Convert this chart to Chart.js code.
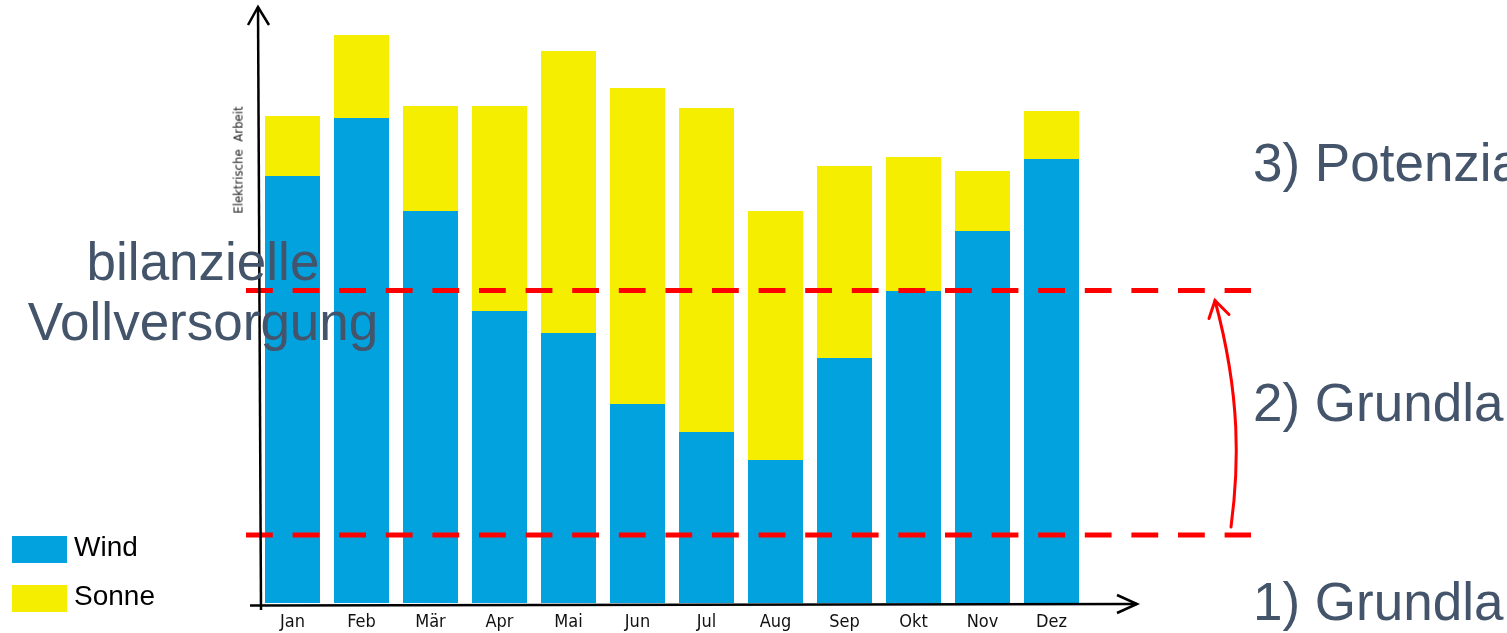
<!DOCTYPE html>
<html>
<head>
<meta charset="utf-8">
<script src="https://cdn.jsdelivr.net/npm/chart.js@4/dist/chart.umd.min.js"></script>
<style>
  html, body { margin: 0; padding: 0; background: #ffffff; overflow: hidden; }
  #wrap { position: relative; width: 1507px; height: 633px; overflow: hidden; }
  #c { position: absolute; left: 0; top: 0; }
  .big { position: absolute; font-family: 'Liberation Sans', Arial, sans-serif; font-size: 53px; line-height: 60px; color: #44546A; white-space: nowrap; }
  .leg { position: absolute; font-family: 'Liberation Sans', Arial, sans-serif; font-size: 28px; line-height: 32px; color: #000; white-space: nowrap; }
  .sw { position: absolute; left: 12px; width: 55px; height: 27px; }
  #ytitle { position: absolute; left: 238px; top: 160px; transform: translate(-50%, -50%) rotate(-90deg);
            font-family: 'Liberation Sans Narrow', 'DejaVu Sans Condensed', 'Liberation Sans', sans-serif;
            font-size: 13px; color: #222; white-space: nowrap; word-spacing: 4px; }
</style>
</head>
<body>
<div id="wrap">
  <canvas id="c" width="1507" height="633"></canvas>
  <div id="ytitle">Elektrische Arbeit</div>
  <div class="big" style="left:0; top:232px; width:406px; text-align:center;">bilanzielle<br>Vollversorgung</div>
  <div class="big" style="left:1253px; top:133px;">3) Potenzia</div>
  <div class="big" style="left:1253px; top:373px;">2) Grundla</div>
  <div class="big" style="left:1253px; top:572px;">1) Grundla</div>
  <div class="sw" style="top:536px; background:#02A2DF;"></div>
  <div class="sw" style="top:585px; background:#F5EE00;"></div>
  <div class="leg" style="left:74px; top:531px;">Wind</div>
  <div class="leg" style="left:74px; top:580px;">Sonne</div>
</div>
<script>
const categories = ['Jan','Feb','Mär','Apr','Mai','Jun','Jul','Aug','Sep','Okt','Nov','Dez'];
const windValues = [427, 485, 392, 292, 270, 199, 171, 143, 245, 312, 372, 444];
const sonneValues = [60, 83, 105, 205, 282, 316, 324, 249, 192, 134, 60, 48];
const referenceLevels = [68, 312.5];
const seriesNames = ['Wind', 'Sonne'];
const seriesColors = ['#02A2DF', '#F5EE00'];

const overlayPlugin = {
  id: 'overlay',
  afterDatasetsDraw(chart) {
    const ctx = chart.ctx;
    const { left, right, top, bottom } = chart.chartArea;
    const y = chart.scales.y;
    ctx.save();
    // red dashed reference lines
    ctx.strokeStyle = '#FF0000';
    ctx.lineWidth = 5;
    ctx.setLineDash([26.8, 19.8]);
    referenceLevels.forEach(v => {
      const py = y.getPixelForValue(v);
      ctx.beginPath();
      ctx.moveTo(left - 12, py);
      ctx.lineTo(right + 165, py);
      ctx.stroke();
    });
    ctx.setLineDash([]);
    // curved red arrow between the two levels
    const lowY = y.getPixelForValue(referenceLevels[0]);
    const highY = y.getPixelForValue(referenceLevels[1]);
    const bx = right + 145, by = lowY - 8;
    const tx = right + 129, ty = highY + 10;
    ctx.lineWidth = 3;
    ctx.lineCap = 'round';
    ctx.beginPath();
    ctx.moveTo(bx, by);
    ctx.bezierCurveTo(bx + 8, by - 60, bx + 10, by - 130, tx, ty);
    ctx.stroke();
    ctx.beginPath();
    ctx.moveTo(tx - 6, ty + 18);
    ctx.lineTo(tx, ty);
    ctx.lineTo(tx + 14, ty + 14);
    ctx.stroke();
    // hand-drawn style axes
    ctx.strokeStyle = '#000';
    ctx.lineWidth = 2.5;
    ctx.lineCap = 'butt';
    ctx.lineJoin = 'miter';
    ctx.beginPath();
    ctx.moveTo(left + 3, bottom + 7);
    ctx.lineTo(left, top + 4);
    ctx.stroke();
    ctx.beginPath();
    ctx.moveTo(left - 10, top + 22);
    ctx.lineTo(left, top + 4);
    ctx.lineTo(left + 11, top + 22);
    ctx.stroke();
    ctx.beginPath();
    ctx.moveTo(left - 8, bottom + 2.5);
    ctx.lineTo(left + 879, bottom + 1);
    ctx.stroke();
    ctx.beginPath();
    ctx.moveTo(left + 859, bottom - 8);
    ctx.lineTo(left + 879, bottom + 1);
    ctx.lineTo(left + 859, bottom + 10);
    ctx.stroke();
    ctx.restore();
  }
};

new Chart(document.getElementById('c'), {
  type: 'bar',
  data: {
    labels: categories,
    datasets: [
      { label: seriesNames[0], data: windValues, backgroundColor: seriesColors[0], borderWidth: 0 },
      { label: seriesNames[1], data: sonneValues, backgroundColor: seriesColors[1], borderWidth: 0 }
    ]
  },
  options: {
    responsive: false,
    animation: false,
    devicePixelRatio: 1,
    layout: { padding: { left: 258, right: 421, top: 3, bottom: 0 } },
    datasets: { bar: { barPercentage: 55 / 69, categoryPercentage: 1 } },
    plugins: { legend: { display: false }, tooltip: { enabled: false }, title: { display: false } },
    scales: {
      x: {
        stacked: true,
        grid: { display: false, drawTicks: false },
        border: { display: false },
        ticks: {
          color: '#111',
          padding: 9,
          font: { family: "'Liberation Sans Narrow', 'DejaVu Sans Condensed', 'Liberation Sans', sans-serif", size: 18 }
        },
        afterFit(scale) { scale.height = 30; }
      },
      y: {
        stacked: true,
        display: false,
        min: 0,
        max: 600
      }
    }
  },
  plugins: [overlayPlugin]
});
</script>
</body>
</html>
